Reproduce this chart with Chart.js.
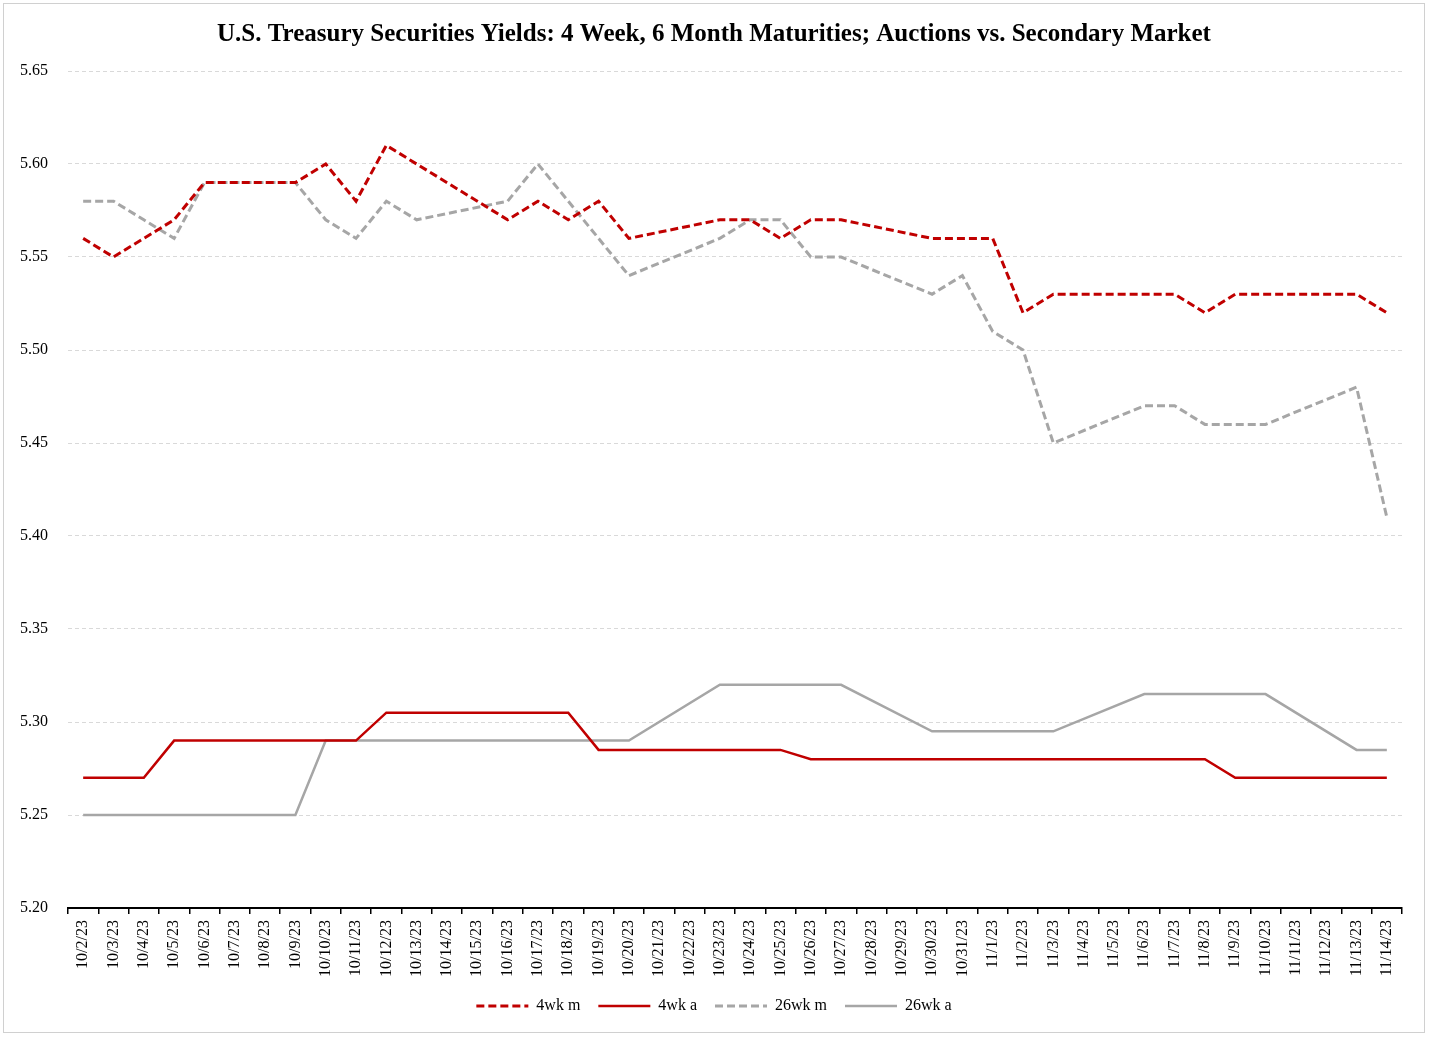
<!DOCTYPE html>
<html>
<head>
<meta charset="utf-8">
<script src="https://cdn.jsdelivr.net/npm/chart.js@4"></script>
<style>
    body { margin: 0; background: #fff; }
    #wrap {
        position: absolute; left: 3px; top: 3px;
        width: 1420px; height: 1028px;
        border: 1px solid #d0d0d0;
    }
</style>
</head>
<body>
<div id="wrap"><canvas id="yieldChart"></canvas></div>
<script>
// dates 10/2/23 .. 11/14/23, weekends have no data (null)
const dates = [
    '10/2/23', '10/3/23', '10/4/23', '10/5/23', '10/6/23', '10/7/23', '10/8/23', '10/9/23',
    '10/10/23', '10/11/23', '10/12/23', '10/13/23', '10/14/23', '10/15/23', '10/16/23',
    '10/17/23', '10/18/23', '10/19/23', '10/20/23', '10/21/23', '10/22/23', '10/23/23',
    '10/24/23', '10/25/23', '10/26/23', '10/27/23', '10/28/23', '10/29/23', '10/30/23',
    '10/31/23', '11/1/23', '11/2/23', '11/3/23', '11/4/23', '11/5/23', '11/6/23',
    '11/7/23', '11/8/23', '11/9/23', '11/10/23', '11/11/23', '11/12/23', '11/13/23', '11/14/23'
];

const wk4Market = [
    5.56, 5.55, 5.56, 5.57, 5.59, null, null, 5.59,
    5.60, 5.58, 5.61, 5.60, null, null, 5.57,
    5.58, 5.57, 5.58, 5.56, null, null, 5.57,
    5.57, 5.56, 5.57, 5.57, null, null, 5.56,
    5.56, 5.56, 5.52, 5.53, null, null, 5.53,
    5.53, 5.52, 5.53, 5.53, null, null, 5.53, 5.52
];

const wk4Auction = [
    5.27, 5.27, 5.27, 5.29, 5.29, null, null, 5.29,
    5.29, 5.29, 5.305, 5.305, null, null, 5.305,
    5.305, 5.305, 5.285, 5.285, null, null, 5.285,
    5.285, 5.285, 5.28, 5.28, null, null, 5.28,
    5.28, 5.28, 5.28, 5.28, null, null, 5.28,
    5.28, 5.28, 5.27, 5.27, null, null, 5.27, 5.27
];

const wk26Market = [
    5.58, 5.58, 5.57, 5.56, 5.59, null, null, 5.59,
    5.57, 5.56, 5.58, 5.57, null, null, 5.58,
    5.60, 5.58, 5.56, 5.54, null, null, 5.56,
    5.57, 5.57, 5.55, 5.55, null, null, 5.53,
    5.54, 5.51, 5.50, 5.45, null, null, 5.47,
    5.47, 5.46, 5.46, 5.46, null, null, 5.48, 5.41
];

const wk26Auction = [
    5.25, 5.25, 5.25, 5.25, 5.25, null, null, 5.25,
    5.29, 5.29, 5.29, 5.29, null, null, 5.29,
    5.29, 5.29, 5.29, 5.29, null, null, 5.32,
    5.32, 5.32, 5.32, 5.32, null, null, 5.295,
    5.295, 5.295, 5.295, 5.295, null, null, 5.315,
    5.315, 5.315, 5.315, 5.315, null, null, 5.285, 5.285
];

const RED = '#C00000';
const GREY = '#A6A6A6';
const serif = '"Liberation Serif", "Times New Roman", serif';

function line(label, data, color, dashed) {
    return {
        label: label,
        data: data,
        borderColor: color,
        backgroundColor: color,
        borderWidth: dashed ? 3 : 2.5,
        borderDash: dashed ? [8, 4] : [],
        pointRadius: 0,
        pointHoverRadius: 0,
        tension: 0,
        spanGaps: true,
        fill: false
    };
}

const ctx = document.getElementById('yieldChart').getContext('2d');
new Chart(ctx, {
    type: 'line',
    data: {
        labels: dates,
        datasets: [
            line('4wk m', wk4Market, RED, true),
            line('4wk a', wk4Auction, RED, false),
            line('26wk m', wk26Market, GREY, true),
            line('26wk a', wk26Auction, GREY, false)
        ]
    },
    options: {
        responsive: true,
        maintainAspectRatio: false,
        animation: false,
        layout: { padding: { left: 0, right: 0, top: 6, bottom: 8 } },
        plugins: {
            title: {
                display: true,
                text: 'U.S. Treasury Securities Yields: 4 Week, 6 Month Maturities; Auctions vs. Secondary Market',
                color: '#000',
                font: { family: serif, size: 25, weight: 'bold' },
                padding: { top: 10, bottom: 21 }
            },
            legend: {
                position: 'bottom',
                labels: {
                    color: '#000',
                    font: { family: serif, size: 16 },
                    boxWidth: 52,   // 52 keeps the dash pattern visible in the legend sample
                    boxHeight: 0,
                    padding: 18
                }
            },
            tooltip: { enabled: false }
        },
        scales: {
            x: {
                offset: true,
                grid: {
                    display: true,
                    drawOnChartArea: false,
                    drawTicks: true,
                    tickLength: 6,
                    color: '#000',
                    lineWidth: 1.5,
                    offset: true
                },
                border: { display: true, color: '#000', width: 2 },
                ticks: {
                    color: '#000',
                    font: { family: serif, size: 16 },
                    minRotation: 90,
                    maxRotation: 90,
                    autoSkip: false,
                    padding: 6
                },
                afterFit: function (scale) {
                    scale.height = 72;
                }
            },
            y: {
                min: 5.2,
                max: 5.65,
                grid: {
                    color: '#d9d9d9',
                    lineWidth: 1,
                    drawTicks: false
                },
                border: { display: false, dash: [4, 3] },
                ticks: {
                    stepSize: 0.05,
                    color: '#000',
                    font: { family: serif, size: 16 },
                    padding: 20,
                    callback: function (value) {
                        return value.toFixed(2);
                    }
                },
                afterFit: function (scale) {
                    scale.width = 64;
                }
            },
            // empty right axis, only to leave the right margin
            yRight: {
                position: 'right',
                display: true,
                grid: { display: false },
                border: { display: false },
                ticks: { display: false },
                afterFit: function (scale) {
                    scale.width = 22;
                }
            }
        }
    }
});
</script>
</body>
</html>
